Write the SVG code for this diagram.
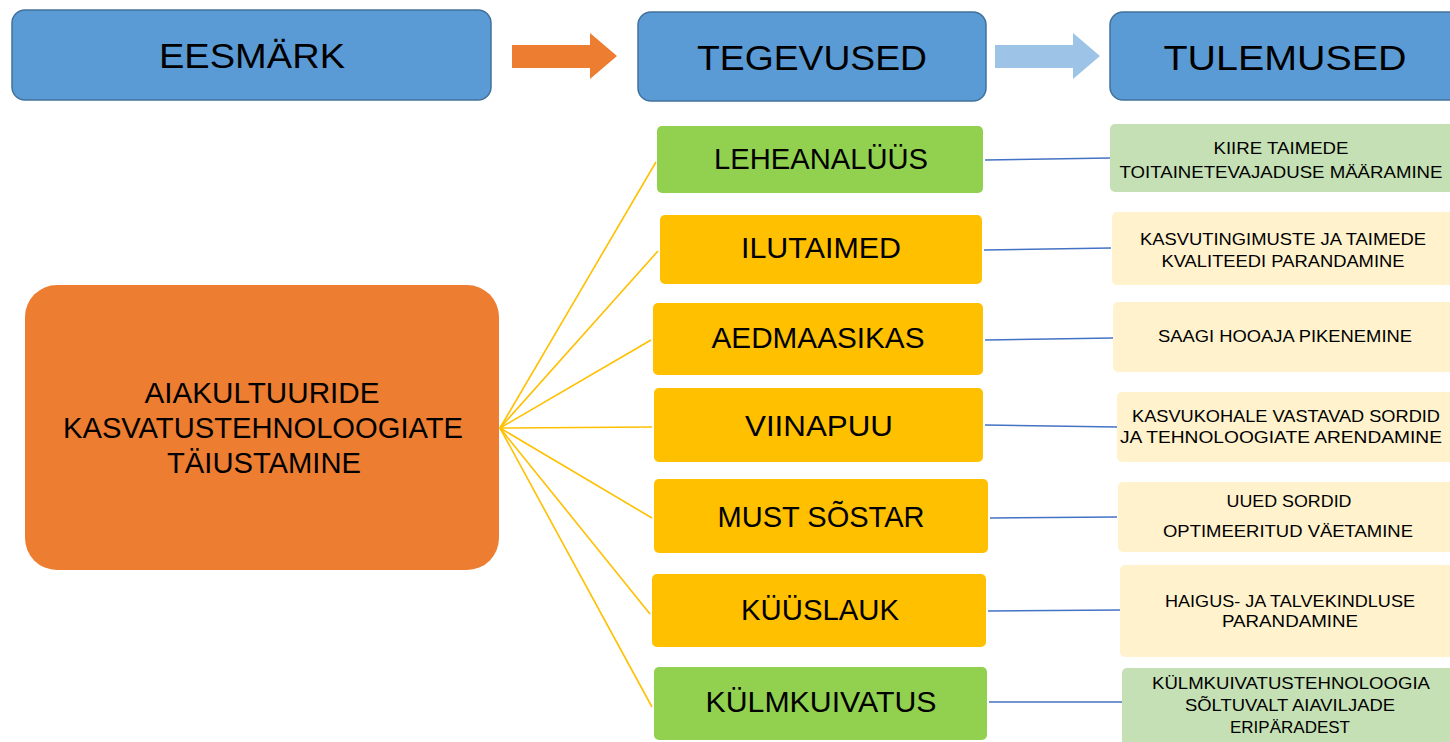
<svg xmlns="http://www.w3.org/2000/svg" width="1450" height="742" viewBox="0 0 1450 742">
<style>
text{font-family:"Liberation Sans",Arial,sans-serif;fill:#000;text-anchor:middle}
.hdr rect{fill:#5B9BD5;stroke:#41719C;stroke-width:1.5}
.hdr text{font-size:35px}
.mid text{font-size:29px}
.res text{font-size:17px}
.grn{fill:#92D050}
.yel{fill:#FFC000}
.lgrn{fill:#C5E0B4}
.lyel{fill:#FFF2CC}
.fan line{stroke:#FFC000;stroke-width:1.6}
.link line{stroke:#4472C4;stroke-width:1.5}
</style>
<rect width="1450" height="742" fill="#fff"/>

<g id="hdr-eesmark" class="hdr"><rect x="12" y="10" width="479" height="90" rx="13"/><text x="252" y="68" font-size="34" textLength="186" lengthAdjust="spacingAndGlyphs">EESMÄRK</text></g>
<g id="hdr-tegevused" class="hdr"><rect x="638" y="12" width="348" height="89" rx="13"/><text x="812" y="70" textLength="230" lengthAdjust="spacingAndGlyphs">TEGEVUSED</text></g>
<g id="hdr-tulemused" class="hdr"><rect x="1110" y="12" width="360" height="88" rx="13"/><text x="1285" y="70" textLength="243" lengthAdjust="spacingAndGlyphs">TULEMUSED</text></g>

<g id="arrows">
<polygon points="512,45 590,45 590,33 617,56 590,79 590,68 512,68" fill="#ED7D31"/>
<polygon points="995,45 1073,45 1073,33 1100,56 1073,79 1073,68 995,68" fill="#9DC3E6"/>
</g>

<g id="connectors">
<g class="fan">
<line x1="500" y1="428" x2="656" y2="162"/>
<line x1="500" y1="428" x2="658" y2="251"/>
<line x1="500" y1="428" x2="651" y2="340"/>
<line x1="500" y1="428" x2="652" y2="427"/>
<line x1="500" y1="428" x2="652" y2="518"/>
<line x1="500" y1="428" x2="650" y2="614"/>
<line x1="500" y1="428" x2="652" y2="707"/>
</g>
<g class="link">
<line x1="985" y1="160" x2="1110" y2="158"/>
<line x1="984" y1="250" x2="1111" y2="248"/>
<line x1="985" y1="340" x2="1113" y2="338"/>
<line x1="985" y1="425" x2="1117" y2="427"/>
<line x1="990" y1="518" x2="1117" y2="517"/>
<line x1="988" y1="611" x2="1120" y2="610"/>
<line x1="989" y1="702" x2="1122" y2="702"/>
</g>
</g>

<g id="goal"><rect x="25" y="285" width="474" height="285" rx="32" fill="#ED7D31"/>
<text x="262" y="403" font-size="29" textLength="235" lengthAdjust="spacingAndGlyphs">AIAKULTUURIDE</text>
<text x="263" y="438" font-size="29" textLength="400" lengthAdjust="spacingAndGlyphs">KASVATUSTEHNOLOOGIATE</text>
<text x="264" y="473" font-size="29" textLength="194" lengthAdjust="spacingAndGlyphs">TÄIUSTAMINE</text>
</g>

<g class="mid">
<g id="act-leheanaluus"><rect class="grn" x="657" y="126" width="326" height="67" rx="5"/><text x="821" y="169" textLength="214" lengthAdjust="spacingAndGlyphs">LEHEANALÜÜS</text></g>
<g id="act-ilutaimed"><rect class="yel" x="660" y="215" width="322" height="69" rx="5"/><text x="821" y="258" textLength="160" lengthAdjust="spacingAndGlyphs">ILUTAIMED</text></g>
<g id="act-aedmaasikas"><rect class="yel" x="653" y="303" width="330" height="72" rx="5"/><text x="818" y="348" textLength="213" lengthAdjust="spacingAndGlyphs">AEDMAASIKAS</text></g>
<g id="act-viinapuu"><rect class="yel" x="654" y="388" width="329" height="74" rx="5"/><text x="819" y="436" textLength="148" lengthAdjust="spacingAndGlyphs">VIINAPUU</text></g>
<g id="act-must-sostar"><rect class="yel" x="654" y="479" width="334" height="74" rx="5"/><text x="821" y="527" textLength="207" lengthAdjust="spacingAndGlyphs">MUST SÕSTAR</text></g>
<g id="act-kuuslauk"><rect class="yel" x="652" y="574" width="334" height="73" rx="5"/><text x="820" y="620" textLength="158" lengthAdjust="spacingAndGlyphs">KÜÜSLAUK</text></g>
<g id="act-kulmkuivatus"><rect class="grn" x="654" y="667" width="333" height="73" rx="5"/><text x="821" y="712" textLength="231" lengthAdjust="spacingAndGlyphs">KÜLMKUIVATUS</text></g>
</g>

<g class="res">
<g id="res-1"><rect class="lgrn" x="1110" y="124" width="350" height="68" rx="5"/>
<text x="1281" y="154" textLength="135" lengthAdjust="spacingAndGlyphs">KIIRE TAIMEDE</text>
<text x="1281" y="178" textLength="323" lengthAdjust="spacingAndGlyphs">TOITAINETEVAJADUSE MÄÄRAMINE</text></g>
<g id="res-2"><rect class="lyel" x="1112" y="212" width="348" height="73" rx="5"/>
<text x="1283" y="245" textLength="286" lengthAdjust="spacingAndGlyphs">KASVUTINGIMUSTE JA TAIMEDE</text>
<text x="1283" y="267" textLength="243" lengthAdjust="spacingAndGlyphs">KVALITEEDI PARANDAMINE</text></g>
<g id="res-3"><rect class="lyel" x="1113" y="302" width="347" height="70" rx="5"/>
<text x="1285" y="342" textLength="254" lengthAdjust="spacingAndGlyphs">SAAGI HOOAJA PIKENEMINE</text></g>
<g id="res-4"><rect class="lyel" x="1117" y="392" width="343" height="70" rx="5"/>
<text x="1286" y="422" textLength="308" lengthAdjust="spacingAndGlyphs">KASVUKOHALE VASTAVAD SORDID</text>
<text x="1281" y="443" textLength="322" lengthAdjust="spacingAndGlyphs">JA TEHNOLOOGIATE ARENDAMINE</text></g>
<g id="res-5"><rect class="lyel" x="1118" y="482" width="342" height="70" rx="5"/>
<text x="1289" y="507" textLength="125" lengthAdjust="spacingAndGlyphs">UUED SORDID</text>
<text x="1288" y="537" textLength="250" lengthAdjust="spacingAndGlyphs">OPTIMEERITUD VÄETAMINE</text></g>
<g id="res-6"><rect class="lyel" x="1120" y="565" width="340" height="92" rx="5"/>
<text x="1290" y="607" textLength="250" lengthAdjust="spacingAndGlyphs">HAIGUS- JA TALVEKINDLUSE</text>
<text x="1290" y="627" textLength="136" lengthAdjust="spacingAndGlyphs">PARANDAMINE</text></g>
<g id="res-7"><rect class="lgrn" x="1122" y="668" width="338" height="80" rx="5"/>
<text x="1291" y="689" textLength="278" lengthAdjust="spacingAndGlyphs">KÜLMKUIVATUSTEHNOLOOGIA</text>
<text x="1290" y="711" textLength="210" lengthAdjust="spacingAndGlyphs">SÕLTUVALT AIAVILJADE</text>
<text x="1290" y="733" textLength="120" lengthAdjust="spacingAndGlyphs">ERIPÄRADEST</text></g>
</g>
</svg>
